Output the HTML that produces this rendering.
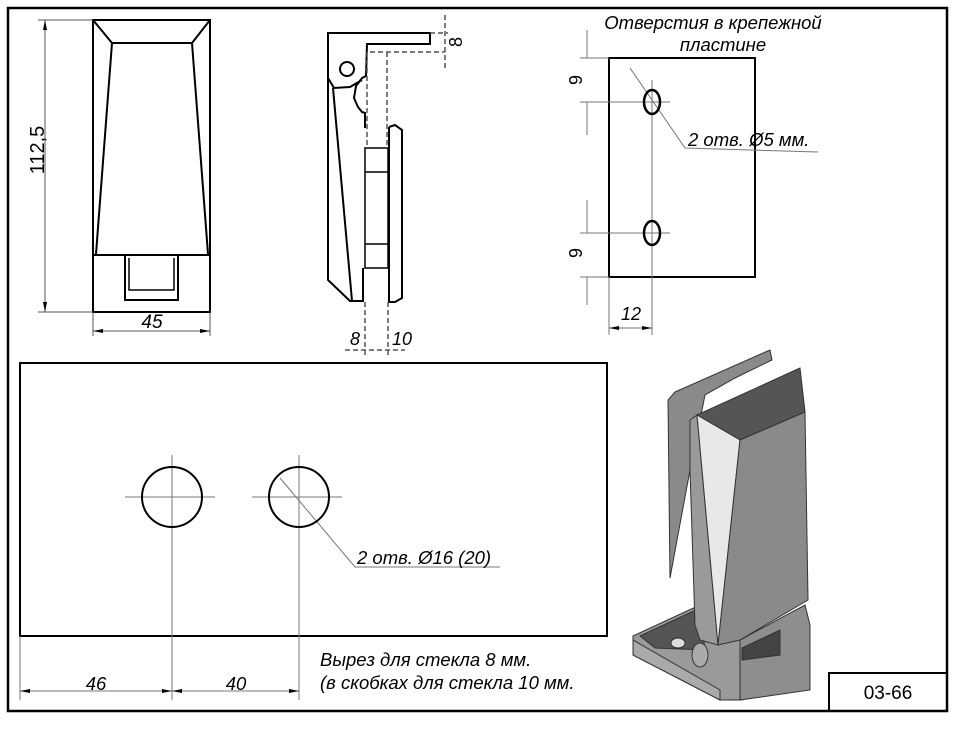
<!DOCTYPE html>
<html><head><meta charset="utf-8"><style>
html,body{margin:0;padding:0;background:#fff;}
svg{display:block;}
text{font-family:"Liberation Sans",sans-serif;fill:#000;}
</style></head><body>
<svg width="957" height="732" viewBox="0 0 957 732" xmlns="http://www.w3.org/2000/svg">
<defs>
<marker id="a" markerWidth="10" markerHeight="6" refX="10" refY="3" orient="auto-start-reverse" markerUnits="userSpaceOnUse"><path d="M0,1 L10,3 L0,5z" fill="#000"/></marker>
</defs>
<rect x="8" y="8" width="939" height="703" fill="none" stroke="#000" stroke-width="2.5"/>
<rect x="829" y="673" width="118" height="38" fill="none" stroke="#000" stroke-width="2"/>
<text x="888" y="699" font-size="19" text-anchor="middle">03-66</text>

<!-- Front view -->
<g stroke="#000" fill="none" stroke-width="2">
<rect x="93" y="20" width="117" height="292"/>
<polyline points="93,20 112,43 192,43 210,20"/>
<line x1="112" y1="43" x2="96" y2="254"/>
<line x1="192" y1="43" x2="208" y2="254"/>
<line x1="93" y1="255" x2="210" y2="255"/>
<polyline points="125,255 125,300 178,300 178,255"/>
<polyline points="129,258 129,290 174,290 174,258" stroke-width="1.5"/>
</g>
<g stroke="#555" stroke-width="1" fill="none">
<line x1="38" y1="20" x2="93" y2="20"/><line x1="38" y1="312" x2="93" y2="312"/>
<line x1="45" y1="20" x2="45" y2="312" marker-start="url(#a)" marker-end="url(#a)"/>
<line x1="93" y1="312" x2="93" y2="336"/><line x1="210" y1="312" x2="210" y2="336"/>
<line x1="93" y1="331" x2="210" y2="331" marker-start="url(#a)" marker-end="url(#a)"/>
</g>
<text x="44" y="150" font-size="20" transform="rotate(-90 44 150)" text-anchor="middle">112,5</text>
<text x="152" y="328" font-size="19" font-style="italic" text-anchor="middle">45</text>

<!-- Side view -->
<g stroke="#000" fill="none" stroke-width="2">
<polyline points="365,128 365,113 362,112 358,107 354,98 356,86 362,78 366,76 367,44 430,44 430,33 328,33 328,78 334,88 350,87 362,80"/>
<polyline points="328,78 328,280 350,301 363,301 363,268"/>
<line x1="333" y1="88" x2="352" y2="301"/>
<circle cx="347" cy="69" r="7"/>
<rect x="365" y="148" width="23" height="120" stroke-width="1.5"/>
<line x1="365" y1="172" x2="388" y2="172" stroke-width="1.5"/>
<line x1="365" y1="244" x2="388" y2="244" stroke-width="1.5"/>
<polyline points="389,127 395,125 402,130 402,298 395,302 389,302 389,127"/>
</g>
<g stroke="#555" stroke-width="1.5" stroke-dasharray="5,3" fill="none">
<line x1="367" y1="52" x2="367" y2="146"/>
<line x1="387" y1="52" x2="387" y2="146"/>
<line x1="370" y1="52" x2="445" y2="52"/>
<line x1="430" y1="33" x2="448" y2="33"/>
<line x1="445" y1="15" x2="445" y2="68"/>
<line x1="365" y1="302" x2="365" y2="358"/>
<line x1="388" y1="302" x2="388" y2="358"/>
<line x1="345" y1="350" x2="405" y2="350"/>
</g>
<text x="462" y="42" font-size="18" transform="rotate(-90 462 42)" text-anchor="middle">8</text>
<text x="355" y="345" font-size="18" font-style="italic" text-anchor="middle">8</text>
<text x="402" y="345" font-size="18" font-style="italic" text-anchor="middle">10</text>

<!-- Plate -->
<text x="713" y="29" font-size="18.5" font-style="italic" text-anchor="middle">Отверстия в крепежной</text>
<text x="723" y="51" font-size="18.5" font-style="italic" text-anchor="middle">пластине</text>
<rect x="609" y="58" width="146" height="219" fill="none" stroke="#000" stroke-width="2"/>
<g stroke="#777" stroke-width="1" fill="none">
<line x1="652" y1="80" x2="652" y2="330"/>
<line x1="580" y1="58" x2="609" y2="58"/><line x1="580" y1="102" x2="670" y2="102"/>
<line x1="580" y1="233" x2="670" y2="233"/><line x1="580" y1="277" x2="609" y2="277"/>
<line x1="587" y1="30" x2="587" y2="58" /><line x1="587" y1="102" x2="587" y2="135"/>
<line x1="587" y1="200" x2="587" y2="233"/><line x1="587" y1="277" x2="587" y2="305"/>
<line x1="609" y1="277" x2="609" y2="335"/><line x1="652" y1="277" x2="652" y2="335"/>
<line x1="609" y1="328" x2="652" y2="328" marker-start="url(#a)" marker-end="url(#a)"/>
<polyline points="630,68 685,148 818,152"/>
</g>
<ellipse cx="652" cy="102" rx="8" ry="12" fill="none" stroke="#000" stroke-width="2.5"/>
<ellipse cx="652" cy="233" rx="8" ry="12" fill="none" stroke="#000" stroke-width="2.5"/>
<text x="582" y="80" font-size="18" transform="rotate(-90 582 80)" text-anchor="middle">9</text>
<text x="582" y="253" font-size="18" transform="rotate(-90 582 253)" text-anchor="middle">9</text>
<text x="631" y="320" font-size="18" font-style="italic" text-anchor="middle">12</text>
<text x="688" y="146" font-size="18.5" font-style="italic">2 отв. Ø5 мм.</text>

<!-- Bottom glass -->
<rect x="20" y="363" width="587" height="273" fill="none" stroke="#000" stroke-width="2"/>
<g stroke="#777" stroke-width="1" fill="none">
<line x1="172" y1="455" x2="172" y2="700"/><line x1="299" y1="455" x2="299" y2="700"/>
<line x1="125" y1="497" x2="215" y2="497"/><line x1="252" y1="497" x2="342" y2="497"/>
<line x1="20" y1="636" x2="20" y2="700"/>
<line x1="20" y1="691" x2="172" y2="691" marker-start="url(#a)" marker-end="url(#a)"/>
<line x1="172" y1="691" x2="299" y2="691" marker-start="url(#a)" marker-end="url(#a)"/>
<polyline points="280,478 355,567 500,567"/>
</g>
<circle cx="172" cy="497" r="30" fill="none" stroke="#000" stroke-width="2"/>
<circle cx="299" cy="497" r="30" fill="none" stroke="#000" stroke-width="2"/>
<text x="96" y="690" font-size="18.5" font-style="italic" text-anchor="middle">46</text>
<text x="236" y="690" font-size="18.5" font-style="italic" text-anchor="middle">40</text>
<text x="357" y="564" font-size="18.5" font-style="italic">2 отв. Ø16 (20)</text>
<text x="320" y="666" font-size="18.5" font-style="italic">Вырез для стекла 8 мм.</text>
<text x="320" y="689" font-size="18.5" font-style="italic">(в скобках для стекла 10 мм.</text>

<!-- 3D -->
<g stroke="#333" stroke-width="1">
<polygon points="675,392 770,350 772,360 735,378 705,395 690,470 670,578 668,400" fill="#8a8a8a"/>
<polygon points="633,636 700,605 742,635 742,700 720,700 633,655" fill="#9a9a9a"/>
<polygon points="640,636 700,608 705,650 655,648" fill="#555"/>
<polygon points="633,655 720,700 720,690 633,640" fill="#aaa"/>
<polygon points="740,640 805,605 810,625 810,690 740,700" fill="#8e8e8e"/>
<polygon points="742,648 780,630 780,655 742,660" fill="#444"/>
<polygon points="697,415 800,368 805,412 740,440" fill="#555"/>
<polygon points="690,420 697,415 718,645 700,640 695,625 690,470" fill="#9a9a9a"/>
<polygon points="697,415 740,440 718,645" fill="#e8e8e8"/>
<polygon points="740,440 805,412 808,600 740,640 718,645" fill="#8a8a8a"/>
<ellipse cx="678" cy="643" rx="7" ry="5" fill="#ddd"/>
<ellipse cx="700" cy="655" rx="8" ry="12" fill="#aaa"/>
</g>
</svg>
</body></html>
